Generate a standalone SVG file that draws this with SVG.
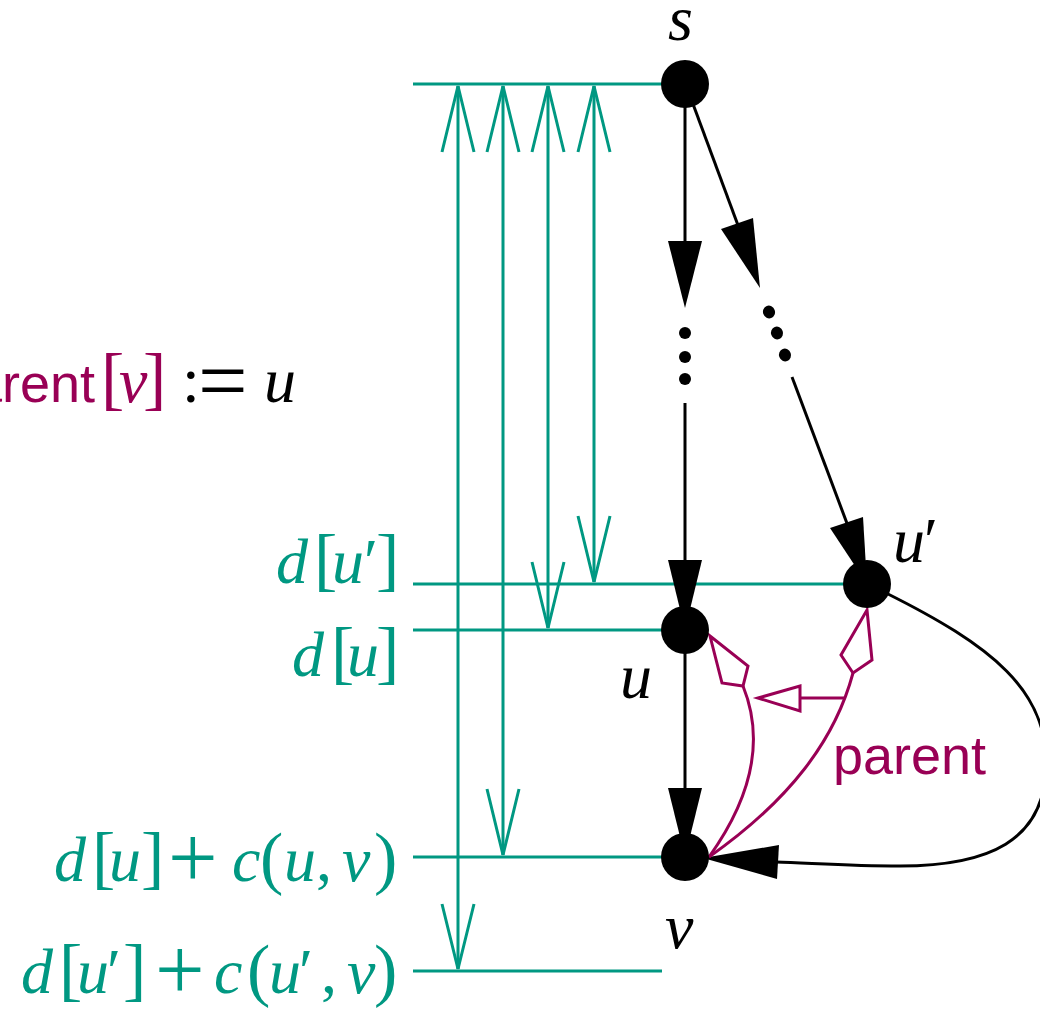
<svg xmlns="http://www.w3.org/2000/svg" width="1040" height="1012" viewBox="0 0 1040 1012">
<style>
.t{stroke:#009882;stroke-width:3;fill:none}
.th{stroke:#009882;stroke-width:3;fill:none;stroke-linejoin:miter}
.k{stroke:#000;stroke-width:3;fill:none}
.kh{fill:#000;stroke:none}
.m{stroke:#990055;stroke-width:3;fill:none}
.mh{stroke:#990055;stroke-width:3;fill:#fff;stroke-linejoin:miter}
.node{fill:#000}
.math{font-family:"Liberation Serif","DejaVu Serif",serif;font-size:64px}
.i{font-style:italic}
.br{font-size:70px;font-style:normal}
.pl{font-size:88px;font-style:normal}
.sans{font-family:"Liberation Sans",Arial,sans-serif;font-size:54px}
.teal{fill:#009882}
.mag{fill:#990055}
.blk{fill:#000}
</style>
<g id="connectors">
  <line class="t" x1="413" y1="84" x2="662" y2="84"/>
  <line class="t" x1="413" y1="584" x2="845" y2="584"/>
  <line class="t" x1="413" y1="630" x2="662" y2="630"/>
  <line class="t" x1="413" y1="857" x2="662" y2="857"/>
  <line class="t" x1="413" y1="971" x2="662" y2="971"/>
  <line class="t" x1="458" y1="86" x2="458" y2="969"/>
  <polyline class="th" points="442,152 458,86 474,152"/>
  <polyline class="th" points="442,904 458,969 474,904"/>
  <line class="t" x1="503" y1="86" x2="503" y2="855"/>
  <polyline class="th" points="487,152 503,86 519,152"/>
  <polyline class="th" points="487,789 503,855 519,789"/>
  <line class="t" x1="548" y1="86" x2="548" y2="628"/>
  <polyline class="th" points="532,152 548,86 564,152"/>
  <polyline class="th" points="532,562 548,628 564,562"/>
  <line class="t" x1="594" y1="86" x2="594" y2="582"/>
  <polyline class="th" points="578,152 594,86 610,152"/>
  <polyline class="th" points="578,516 594,582 610,516"/>
  <line class="k" x1="685" y1="100" x2="685" y2="245"/>
  <polygon class="kh" points="668,241 702,241 685,308"/>
  <circle class="kh" cx="685" cy="333" r="6"/>
  <circle class="kh" cx="685" cy="357" r="6"/>
  <circle class="kh" cx="685" cy="379" r="6"/>
  <line class="k" x1="685" y1="403" x2="685" y2="565"/>
  <polygon class="kh" points="668,560 702,560 685,630"/>
  <line class="k" x1="693" y1="104" x2="739" y2="228"/>
  <polygon class="kh" points="721,229 753,218 760,288"/>
  <ellipse class="kh" cx="769" cy="312" rx="6.5" ry="6" transform="rotate(70 769 312)"/>
  <ellipse class="kh" cx="777" cy="333" rx="6.5" ry="6" transform="rotate(70 777 333)"/>
  <ellipse class="kh" cx="785" cy="355" rx="6.5" ry="6" transform="rotate(70 785 355)"/>
  <line class="k" x1="792" y1="377" x2="848" y2="526"/>
  <polygon class="kh" points="830,528 863,517 867,584"/>
  <line class="k" x1="685" y1="650" x2="685" y2="792"/>
  <polygon class="kh" points="668,788 702,788 685,857"/>
  <path class="k" d="M 886,593 C 990,645 1050,690 1046,770 C 1043,840 990,866 900,866 C 850,866 810,863 776,862"/>
  <polygon class="kh" points="779,845 777,879 703,858"/>
  <path class="m" d="M 743,686 Q 775,765 709,857"/>
  <polygon class="mh" points="710,636 748,666 743,686 722,683"/>
  <path class="m" d="M 853,673 C 835,740 790,800 709,857"/>
  <polygon class="mh" points="867,610 872,660 853,673 841,655"/>
  <line class="m" x1="800" y1="698" x2="845" y2="698"/>
  <polygon class="mh" points="758,698 800,686 800,711"/>
</g>
<g id="node-s"><circle class="node" cx="685" cy="84" r="24"/><text class="math i blk" x="668" y="40">s</text></g>
<g id="node-u"><circle class="node" cx="685" cy="630" r="24"/><text class="math i blk" x="620" y="698">u</text></g>
<g id="node-uprime"><circle class="node" cx="867" cy="584" r="24"/><text class="math blk" y="562"><tspan class="i" x="893">u</tspan><tspan x="924">′</tspan></text></g>
<g id="node-v"><circle class="node" cx="685" cy="857" r="24"/><text class="math i blk" x="665" y="948">v</text></g>
<g id="labels">
  <text y="402"><tspan class="sans mag" x="-58">parent</tspan><tspan class="math br mag" x="101">[</tspan><tspan class="math i mag" x="119">v</tspan><tspan class="math br mag" x="143">]</tspan><tspan class="math blk" x="182">:</tspan><tspan class="math pl blk" x="198" dy="8">=</tspan><tspan class="math i blk" x="264" dy="-8">u</tspan></text>
  <text class="math teal" y="583"><tspan class="i" x="276">d</tspan><tspan class="br" x="314">[</tspan><tspan class="i" x="332">u</tspan><tspan x="364">′</tspan><tspan class="br" x="376">]</tspan></text>
  <text class="math teal" y="676"><tspan class="i" x="292">d</tspan><tspan class="br" x="331">[</tspan><tspan class="i" x="347">u</tspan><tspan class="br" x="376">]</tspan></text>
  <text class="math teal" y="881"><tspan class="i" x="54">d</tspan><tspan class="br" x="92">[</tspan><tspan class="i" x="109">u</tspan><tspan class="br" x="141">]</tspan><tspan class="pl" x="168" dy="6">+</tspan><tspan class="i" x="232" dy="-6">c</tspan><tspan class="br" x="260">(</tspan><tspan class="i" x="284">u</tspan><tspan x="316">,</tspan><tspan class="i" x="342">v</tspan><tspan class="br" x="374">)</tspan></text>
  <text class="math teal" y="993"><tspan class="i" x="21">d</tspan><tspan class="br" x="59">[</tspan><tspan class="i" x="77">u</tspan><tspan x="107">′</tspan><tspan class="br" x="123">]</tspan><tspan class="pl" x="155" dy="6">+</tspan><tspan class="i" x="214" dy="-6">c</tspan><tspan class="br" x="247">(</tspan><tspan class="i" x="269">u</tspan><tspan x="299">′</tspan><tspan x="321">,</tspan><tspan class="i" x="347">v</tspan><tspan class="br" x="374">)</tspan></text>
  <text class="sans mag" x="833" y="774">parent</text>
</g>
</svg>
